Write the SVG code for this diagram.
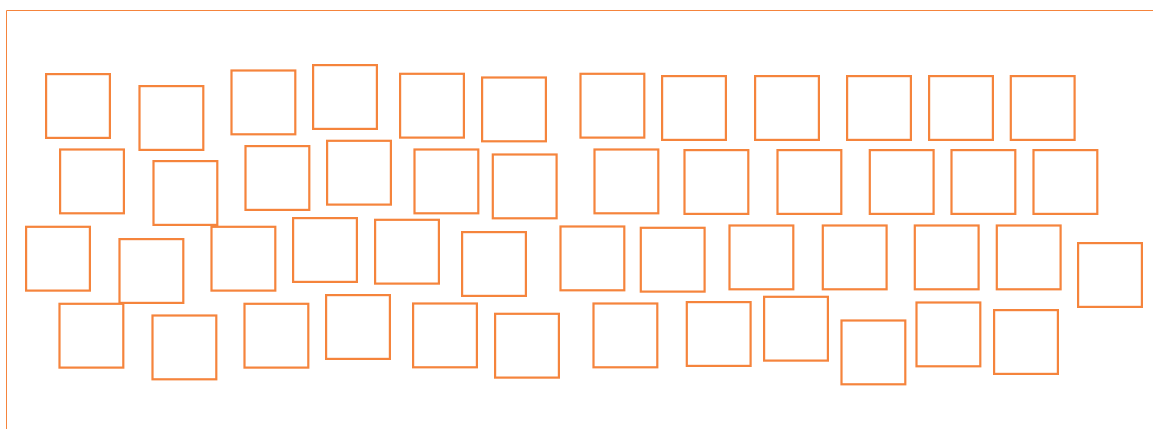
<svg xmlns="http://www.w3.org/2000/svg" width="1153" height="429" viewBox="0 0 1153 429">
<style>
.sq{fill:none;stroke:#f5843c;stroke-width:2.2}
.frame{fill:none;stroke:#f5843c;stroke-width:1}
</style>
<defs><rect id="s" width="63.8" height="63.8" class="sq"/></defs>
<path class="frame" d="M6.5,429 V10.5 H1153"/>
<g id="connectors"></g>
<g id="r1">
<g id="n1"><use href="#s" x="46.1" y="74.1"/></g>
<g id="n2"><use href="#s" x="139.5" y="86.1"/></g>
<g id="n3"><use href="#s" x="231.5" y="70.5"/></g>
<g id="n4"><use href="#s" x="313.1" y="65.1"/></g>
<g id="n5"><use href="#s" x="400.1" y="73.8"/></g>
<g id="n6"><use href="#s" x="482.1" y="77.5"/></g>
<g id="n7"><use href="#s" x="580.5" y="73.8"/></g>
<g id="n8"><use href="#s" x="662.1" y="76.1"/></g>
<g id="n9"><use href="#s" x="755.1" y="76.1"/></g>
<g id="n10"><use href="#s" x="847.1" y="76.1"/></g>
<g id="n11"><use href="#s" x="929.1" y="76.1"/></g>
<g id="n12"><use href="#s" x="1010.8" y="76.1"/></g>
</g>
<g id="r2">
<g id="n13"><use href="#s" x="60.1" y="149.5"/></g>
<g id="n14"><use href="#s" x="153.5" y="161.1"/></g>
<g id="n15"><use href="#s" x="245.5" y="146.1"/></g>
<g id="n16"><use href="#s" x="327.1" y="140.8"/></g>
<g id="n17"><use href="#s" x="414.5" y="149.5"/></g>
<g id="n18"><use href="#s" x="492.8" y="154.5"/></g>
<g id="n19"><use href="#s" x="594.5" y="149.5"/></g>
<g id="n20"><use href="#s" x="684.5" y="150.1"/></g>
<g id="n21"><use href="#s" x="777.5" y="150.1"/></g>
<g id="n22"><use href="#s" x="869.8" y="150.1"/></g>
<g id="n23"><use href="#s" x="951.5" y="150.1"/></g>
<g id="n24"><use href="#s" x="1033.5" y="150.1"/></g>
</g>
<g id="r3">
<g id="n25"><use href="#s" x="26.1" y="226.8"/></g>
<g id="n26"><use href="#s" x="119.5" y="239.1"/></g>
<g id="n27"><use href="#s" x="211.5" y="226.8"/></g>
<g id="n28"><use href="#s" x="293.1" y="218.1"/></g>
<g id="n29"><use href="#s" x="375.1" y="219.8"/></g>
<g id="n30"><use href="#s" x="462.1" y="232.1"/></g>
<g id="n31"><use href="#s" x="560.5" y="226.5"/></g>
<g id="n32"><use href="#s" x="640.8" y="227.8"/></g>
<g id="n33"><use href="#s" x="729.5" y="225.5"/></g>
<g id="n34"><use href="#s" x="822.8" y="225.5"/></g>
<g id="n35"><use href="#s" x="914.8" y="225.5"/></g>
<g id="n36"><use href="#s" x="996.8" y="225.5"/></g>
<g id="n37"><use href="#s" x="1078.1" y="243.1"/></g>
</g>
<g id="r4">
<g id="n38"><use href="#s" x="59.5" y="303.8"/></g>
<g id="n39"><use href="#s" x="152.5" y="315.5"/></g>
<g id="n40"><use href="#s" x="244.5" y="303.8"/></g>
<g id="n41"><use href="#s" x="326.1" y="295.1"/></g>
<g id="n42"><use href="#s" x="413.1" y="303.5"/></g>
<g id="n43"><use href="#s" x="495.1" y="313.8"/></g>
<g id="n44"><use href="#s" x="593.5" y="303.5"/></g>
<g id="n45"><use href="#s" x="686.8" y="302.1"/></g>
<g id="n46"><use href="#s" x="764.1" y="296.8"/></g>
<g id="n47"><use href="#s" x="841.5" y="320.5"/></g>
<g id="n48"><use href="#s" x="916.5" y="302.5"/></g>
<g id="n49"><use href="#s" x="994.1" y="310.1"/></g>
</g>
</svg>
